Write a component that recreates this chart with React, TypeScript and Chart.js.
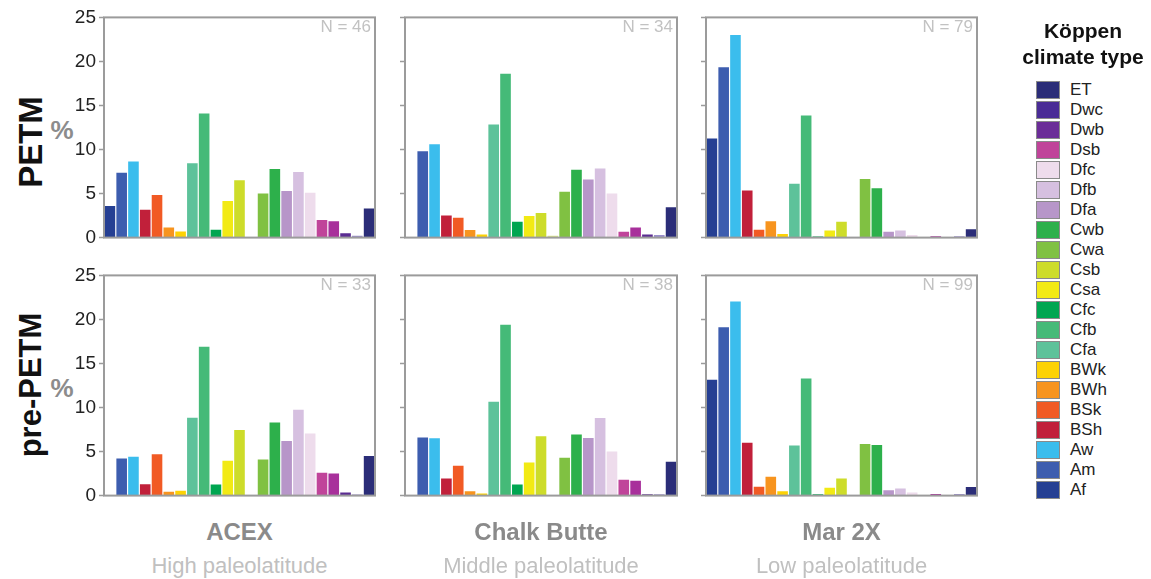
import React, { useEffect, useRef } from 'react';
import { Chart, registerables } from 'chart.js';

Chart.register(...registerables);

const FONT = '"Liberation Sans", Arial, Helvetica, sans-serif';

// Bar categories (x slots), left to right
const CATEGORIES = ['Af', 'Am', 'Aw', 'BSh', 'BSk', 'BWh', 'BWk', 'Cfa', 'Cfb', 'Cfc', 'Csa', 'Csb', 'Csc', 'Cwa', 'Cwb', 'Dfa', 'Dfb', 'Dfc', 'Dsb', 'Dsc', 'Dwb', 'Dwc', 'ET'];
const BAR_COLORS = ['#253F93', '#3D5DAF', '#3BBDED', '#C1203A', '#F15A24', '#F7941E', '#FDD205', '#5DC29A', '#45BA78', '#00A651', '#F2EA14', '#CDDC2A', '#DCE68C', '#80C142', '#2DB04B', '#B796C9', '#D6C0E0', '#EEDCEC', '#C0449A', '#A8309B', '#5B2C92', '#9A8ECB', '#2B2D78'];

// Series values (%)
const ACEX_PETM = [3.6, 7.35, 8.65, 3.15, 4.85, 1.15, 0.7, 8.45, 14.1, 0.9, 4.15, 6.5, 0, 5.0, 7.8, 5.3, 7.45, 5.1, 2.0, 1.85, 0.5, 0.2, 3.3];
const CHALK_PETM = [0, 9.8, 10.6, 2.5, 2.25, 0.85, 0.35, 12.85, 18.6, 1.8, 2.45, 2.8, 0.2, 5.2, 7.7, 6.6, 7.85, 5.0, 0.65, 1.15, 0.35, 0.3, 3.45];
const MAR_PETM = [11.25, 19.35, 23.0, 5.35, 0.9, 1.85, 0.4, 6.1, 13.85, 0.12, 0.8, 1.8, 0, 6.65, 5.6, 0.65, 0.8, 0.3, 0, 0.15, 0, 0.15, 0.95];
const ACEX_PRE = [0, 4.2, 4.4, 1.3, 4.7, 0.45, 0.55, 8.85, 16.9, 1.25, 3.95, 7.45, 0, 4.1, 8.3, 6.2, 9.75, 7.05, 2.6, 2.5, 0.35, 0.12, 4.5];
const CHALK_PRE = [0, 6.6, 6.5, 1.95, 3.4, 0.5, 0.25, 10.65, 19.4, 1.25, 3.75, 6.75, 0.08, 4.3, 6.95, 6.55, 8.8, 5.0, 1.8, 1.7, 0.15, 0.15, 3.85];
const MAR_PRE = [13.15, 19.1, 22.05, 6.0, 1.0, 2.15, 0.5, 5.7, 13.3, 0.15, 0.9, 1.95, 0, 5.85, 5.75, 0.6, 0.8, 0.35, 0, 0.18, 0, 0.18, 0.98];

const Y_MIN = 0;
const Y_MAX = 25;
const Y_STEP = 5;

const SITES = ['ACEX', 'Chalk Butte', 'Mar 2X'];
const SITE_SUBTITLES = ['High paleolatitude', 'Middle paleolatitude', 'Low paleolatitude'];
const ROWS = ['PETM', 'pre-PETM'];
const N_PETM = [46, 34, 79];
const N_PRE = [33, 38, 99];

const LEGEND_TITLE = ['Köppen', 'climate type'];
const LEGEND_ITEMS = ['ET', 'Dwc', 'Dwb', 'Dsb', 'Dfc', 'Dfb', 'Dfa', 'Cwb', 'Cwa', 'Csb', 'Csa', 'Cfc', 'Cfb', 'Cfa', 'BWk', 'BWh', 'BSk', 'BSh', 'Aw', 'Am', 'Af'];
const LEGEND_COLORS = ['#2B2D78', '#4A2C96', '#6B2D98', '#C0449A', '#EEDCEC', '#D6C0E0', '#B796C9', '#2DB04B', '#80C142', '#CDDC2A', '#F2EA14', '#00A651', '#45BA78', '#5DC29A', '#FDD205', '#F7941E', '#F15A24', '#C1203A', '#3BBDED', '#3D5DAF', '#253F93'];

// Layout
const COL_X = [104, 405, 706];
const COL_W = [271, 272, 271];
const ROW_Y = [15, 273];
const ROW_H = 229;
const ROW_LABEL_CY = [142, 385];
const ROW_LABEL_SIZE = [33, 31];
const PAD_L = 60;
const PAD_T = 12;
const PAD_R = 4;
const PAD_B = 8;

const framePlugin = {
  id: 'panelFrame',
  afterDraw(chart: any) {
    const { ctx, chartArea: a } = chart;
    ctx.save();
    ctx.strokeStyle = '#9b9b9b';
    ctx.lineWidth = 2;
    ctx.strokeRect(a.left, a.top, a.right - a.left, a.bottom - a.top);
    ctx.restore();
  },
};

function Panel({ x, y, w, h, values, showLabels }: any) {
  const ref = useRef<HTMLCanvasElement | null>(null);
  useEffect(() => {
    if (!ref.current) return;
    const chart = new Chart(ref.current, {
      type: 'bar',
      data: {
        labels: CATEGORIES,
        datasets: [
          {
            data: values,
            backgroundColor: BAR_COLORS,
            borderWidth: 0,
            barPercentage: 0.9,
            categoryPercentage: 1,
          },
        ],
      },
      options: {
        animation: false,
        responsive: false,
        devicePixelRatio: 1,
        layout: { padding: { left: 0, top: PAD_T, right: PAD_R, bottom: PAD_B } },
        plugins: { legend: { display: false }, tooltip: { enabled: false } },
        scales: {
          x: { display: false },
          y: {
            min: Y_MIN,
            max: Y_MAX,
            ticks: {
              stepSize: Y_STEP,
              color: showLabels ? '#222222' : 'rgba(0,0,0,0)',
              font: { family: FONT, size: 19 },
              padding: 3,
            },
            grid: {
              drawOnChartArea: false,
              drawTicks: true,
              tickLength: 5,
              tickColor: '#9b9b9b',
              tickWidth: 1.5,
            },
            border: { display: false },
            afterFit: (s: any) => {
              s.width = PAD_L;
            },
          },
        },
      } as any,
      plugins: [framePlugin],
    });
    return () => chart.destroy();
  }, []);
  return (
    <canvas
      ref={ref}
      width={w + PAD_L + PAD_R}
      height={h + PAD_T + PAD_B}
      style={{ position: 'absolute', left: x - PAD_L, top: y - PAD_T, width: w + PAD_L + PAD_R, height: h + PAD_T + PAD_B }}
    />
  );
}

export default function App() {
  const rowData = [
    [ACEX_PETM, CHALK_PETM, MAR_PETM],
    [ACEX_PRE, CHALK_PRE, MAR_PRE],
  ];
  const rowN = [N_PETM, N_PRE];
  return (
    <div style={{ position: 'absolute', left: 0, top: 0, width: 1151, height: 579, background: '#fff', fontFamily: FONT, overflow: 'hidden' }}>
      {ROWS.map((rowName, r) => (
        <React.Fragment key={rowName}>
          <div
            style={{
              position: 'absolute',
              left: 31 - 100,
              top: ROW_LABEL_CY[r] - 20,
              width: 200,
              height: 40,
              lineHeight: '40px',
              textAlign: 'center',
              transform: 'rotate(-90deg)',
              fontWeight: 'bold',
              fontSize: ROW_LABEL_SIZE[r],
              color: '#111',
            }}
          >
            {rowName}
          </div>
          <div
            style={{
              position: 'absolute',
              left: 49,
              top: ROW_Y[r] + ROW_H / 2 - 14,
              width: 26,
              height: 28,
              lineHeight: '28px',
              textAlign: 'center',
              fontWeight: 'bold',
              fontSize: 26,
              color: '#8c8c8c',
            }}
          >
            %
          </div>
          {SITES.map((site, c) => (
            <React.Fragment key={site}>
              <Panel x={COL_X[c]} y={ROW_Y[r]} w={COL_W[c]} h={ROW_H} values={rowData[r][c]} showLabels={c === 0} />
              <div
                style={{
                  position: 'absolute',
                  left: COL_X[c] + COL_W[c] - 154,
                  top: ROW_Y[r] + 3,
                  width: 150,
                  textAlign: 'right',
                  fontSize: 17,
                  lineHeight: '18px',
                  color: '#c2c2c2',
                }}
              >
                {'N = ' + rowN[r][c]}
              </div>
            </React.Fragment>
          ))}
        </React.Fragment>
      ))}
      {SITES.map((site, c) => (
        <React.Fragment key={'t' + site}>
          <div
            style={{
              position: 'absolute',
              left: COL_X[c] + COL_W[c] / 2 - 150,
              top: 518,
              width: 300,
              textAlign: 'center',
              fontWeight: 'bold',
              fontSize: 24,
              lineHeight: '28px',
              color: '#8a8a8a',
            }}
          >
            {site}
          </div>
          <div
            style={{
              position: 'absolute',
              left: COL_X[c] + COL_W[c] / 2 - 150,
              top: 553,
              width: 300,
              textAlign: 'center',
              fontSize: 22,
              lineHeight: '26px',
              color: '#c0c0c0',
            }}
          >
            {SITE_SUBTITLES[c]}
          </div>
        </React.Fragment>
      ))}
      <div
        style={{
          position: 'absolute',
          left: 1013,
          top: 18,
          width: 140,
          textAlign: 'center',
          fontWeight: 'bold',
          fontSize: 21,
          lineHeight: '26px',
          color: '#111',
        }}
      >
        {LEGEND_TITLE.map((t) => (
          <div key={t}>{t}</div>
        ))}
      </div>
      {LEGEND_ITEMS.map((name, i) => (
        <React.Fragment key={name}>
          <div
            style={{
              position: 'absolute',
              left: 1036,
              top: 81 + i * 20,
              width: 22,
              height: 16,
              background: LEGEND_COLORS[i],
              border: '1px solid #8a8a8a',
            }}
          />
          <div
            style={{
              position: 'absolute',
              left: 1070,
              top: 80 + i * 20,
              fontSize: 17,
              lineHeight: '19px',
              color: '#222',
            }}
          >
            {name}
          </div>
        </React.Fragment>
      ))}
    </div>
  );
}
